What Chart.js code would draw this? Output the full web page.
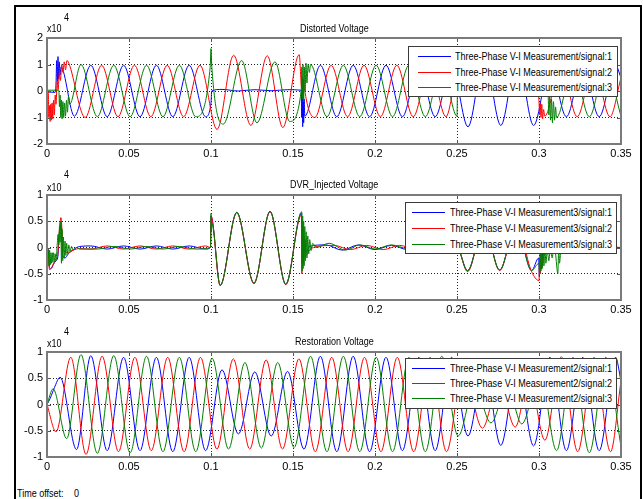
<!DOCTYPE html>
<html>
<head>
<meta charset="utf-8">
<script src="https://cdn.jsdelivr.net/npm/chart.js@4.4.0/dist/chart.umd.min.js"></script>
<style>
  body { margin: 0; width: 643px; height: 499px; overflow: hidden; position: relative; background: #fff;
         font-family: 'Liberation Sans', Arial, sans-serif; font-size: 11px; color: #000; }
  #frame { position: absolute; left: 14px; top: 5px; width: 624px; height: 600px; border: 2px solid #000; }
  canvas { position: absolute; left: 17px; }
  .txt { position: absolute; line-height: 12px; white-space: nowrap; transform: scaleX(0.82); transform-origin: 0 0; }
  .legend { position: absolute; background: #fff; border: 1px solid #3a3a3a; }
  .legend .row { position: absolute; height: 12px; line-height: 12px; white-space: nowrap; }
  .legend .swatch { position: absolute; top: 6px; width: 33px; height: 0; border-top: 1px solid; }
  .legend .lbl { position: absolute; top: 0; transform: scaleX(0.82); transform-origin: 0 0; }
</style>
</head>
<body>
<div id="frame"></div>
<canvas id="c1" width="621" height="154" style="top:12px"></canvas>
<canvas id="c2" width="621" height="152" style="top:170px"></canvas>
<canvas id="c3" width="621" height="153" style="top:326px"></canvas>
<script>
// axes
const xTicks = [0, 0.05, 0.1, 0.15, 0.2, 0.25, 0.3, 0.35];
const distYTicks = [-2, -1, 0, 1, 2];
const dvrYTicks = [-1, -0.5, 0, 0.5, 1];
const restYTicks = [-1, -0.5, 0, 0.5, 1];

const distLabels = ['Three-Phase V-I Measurement/signal:1', 'Three-Phase V-I Measurement/signal:2', 'Three-Phase V-I Measurement/signal:3'];
const dvrLabels = ['Three-Phase V-I Measurement3/signal:1', 'Three-Phase V-I Measurement3/signal:2', 'Three-Phase V-I Measurement3/signal:3'];
const restLabels = ['Three-Phase V-I Measurement2/signal:1', 'Three-Phase V-I Measurement2/signal:2', 'Three-Phase V-I Measurement2/signal:3'];

// Distorted Voltage (x1e4) - peaks, troughs and transient points
const distBlueT = [0, 0.005, 0.0055, 0.0059, 0.0063, 0.0067, 0.0071, 0.0075, 0.008, 0.0085, 0.0167, 0.0267, 0.0367, 0.0467, 0.0567, 0.0667, 0.0767, 0.0867, 0.0967, 0.1, 0.1004, 0.1067, 0.1167, 0.1267, 0.1367, 0.1467, 0.155, 0.1553, 0.1556, 0.1559, 0.1562, 0.1565, 0.1568, 0.1572, 0.1667, 0.1767, 0.1867, 0.1967, 0.2067, 0.2167, 0.2267, 0.2367, 0.2467, 0.2567, 0.2667, 0.2767, 0.2867, 0.2967, 0.3067, 0.3167, 0.3267, 0.3367, 0.3467, 0.35];
const distBlueV = [-0.04, -0.05, 0.3, 1.15, 0.35, 1.3, 0.45, 1.1, 0.6, 0.9, -0.95, 0.97, -0.97, 0.97, -0.97, 0.97, -0.97, 0.97, -0.97, -0.45, 0, 0.06, 0, 0.05, 0.01, 0.05, 0.03, -1.0, 0.35, -1.35, 0.4, -1.2, -0.3, -0.95, 0.97, -0.97, 0.97, -0.97, 0.97, -0.97, 0.97, -0.97, 0.97, -1.35, 1.35, -1.3, 1.35, -1.3, 0.97, -0.97, 0.97, -0.97, 0.97, 0.5];

const distRedT = [0, 0.0008, 0.0011, 0.0015, 0.0019, 0.0023, 0.0027, 0.0031, 0.0035, 0.004, 0.0045, 0.005, 0.0055, 0.0062, 0.0068, 0.0075, 0.0082, 0.009, 0.0097, 0.0105, 0.0113, 0.0122, 0.0133, 0.0233, 0.0333, 0.0433, 0.0533, 0.0633, 0.0733, 0.0833, 0.0933, 0.1037, 0.1138, 0.1243, 0.1343, 0.1438, 0.1538, 0.1553, 0.1557, 0.1561, 0.1565, 0.157, 0.1633, 0.1733, 0.1833, 0.1933, 0.2033, 0.2133, 0.2233, 0.2333, 0.2433, 0.25, 0.2505, 0.26, 0.27, 0.28, 0.29, 0.2995, 0.3, 0.3004, 0.3008, 0.3012, 0.3017, 0.3022, 0.3028, 0.3035, 0.3133, 0.3233, 0.3333, 0.3433, 0.35];
const distRedV = [0, 0, -1.0, -0.55, -1.15, -0.5, -1.1, -0.45, -1.05, -0.35, -0.9, -0.15, -0.5, 0.35, 0.05, 0.7, 0.4, 1.0, 0.7, 1.1, 0.8, 1.15, 1.05, -1.0, 0.97, -0.97, 0.97, -0.97, 0.97, -0.97, 0.97, -1.45, 1.35, -1.3, 1.33, -1.38, 1.37, 0.1, 0.5, -0.1, 0.45, 0.1, -1.0, 0.97, -0.97, 0.97, -0.97, 0.97, -0.97, 0.97, -0.97, 0.45, 0.02, 0.03, -0.03, 0.03, -0.03, 0, -0.4, -0.9, -0.45, -1.0, -0.5, -1.05, -0.7, -0.95, 0.97, -0.97, 0.97, -0.97, 0.5];

const distGreenT = [0, 0.0072, 0.0076, 0.008, 0.0084, 0.0088, 0.0092, 0.0097, 0.0102, 0.0107, 0.0113, 0.0119, 0.0125, 0.0131, 0.0138, 0.0207, 0.0307, 0.0407, 0.0507, 0.0607, 0.0707, 0.0807, 0.0907, 0.0995, 0.1, 0.1005, 0.1075, 0.1187, 0.128, 0.139, 0.148, 0.155, 0.1554, 0.1557, 0.1561, 0.1565, 0.1569, 0.1574, 0.1579, 0.1585, 0.1592, 0.16, 0.1607, 0.1707, 0.1807, 0.1907, 0.2007, 0.2107, 0.2207, 0.2307, 0.2407, 0.25, 0.2503, 0.26, 0.27, 0.28, 0.29, 0.3, 0.3055, 0.306, 0.3065, 0.307, 0.3076, 0.3082, 0.3088, 0.3095, 0.3101, 0.3107, 0.3207, 0.3307, 0.3407, 0.35];
const distGreenV = [0.03, 0.03, -0.6, -0.15, -1.0, -0.35, -1.05, -0.4, -1.0, -0.45, -0.95, -0.35, -0.8, -0.2, -0.5, 1.0, -0.97, 0.97, -0.97, 0.97, -0.97, 0.97, -0.97, 0.9, 1.6, 0.9, -1.25, 1.15, -1.2, 1.1, -1.15, 0, 0.9, -0.3, 1.0, -0.4, 0.9, 0, 1.05, 0.3, 1.0, 0.7, 1.0, -0.97, 0.97, -0.97, 0.97, -0.97, 0.97, -0.97, 0.97, -0.95, -0.05, 0.03, -0.03, 0.03, -0.03, 0, -0.1, -0.9, -0.2, -1.1, -0.3, -1.2, -0.4, -1.1, -0.6, -1.0, 0.97, -0.97, 0.97, -0.95];

// DVR_Injected Voltage (x1e4)
const dvrBlueT = [0, 0.0008, 0.0015, 0.0025, 0.004, 0.0055, 0.0065, 0.0075, 0.0083, 0.009, 0.0095, 0.011, 0.013, 0.016, 0.02, 0.0267, 0.0367, 0.0467, 0.0567, 0.0667, 0.0767, 0.0867, 0.0967, 0.0997, 0.1, 0.1056, 0.1157, 0.1262, 0.136, 0.1456, 0.1553, 0.1556, 0.156, 0.1565, 0.1572, 0.158, 0.16, 0.17, 0.18, 0.19, 0.2, 0.21, 0.22, 0.23, 0.24, 0.25, 0.2564, 0.2664, 0.276, 0.286, 0.2955, 0.2998, 0.3002, 0.3008, 0.3015, 0.3025, 0.31, 0.32, 0.33, 0.34, 0.35];
const dvrBlueV = [0, -0.05, -0.38, -0.4, -0.32, -0.25, -0.2, 0.25, 0.5, 0.2, -0.15, -0.2, -0.12, -0.04, 0.02, 0.03, -0.03, 0.03, -0.03, 0.03, -0.03, 0.03, -0.03, 0, 0.6, -0.72, 0.67, -0.68, 0.69, -0.7, 0.66, -0.3, 0.3, -0.2, 0.15, -0.1, 0.02, 0.05, -0.05, 0.05, -0.04, 0.04, -0.04, 0.04, -0.04, 0, -0.44, 0.44, -0.43, 0.44, -0.44, -0.2, -0.55, -0.1, -0.4, -0.05, 0.02, -0.02, 0.02, -0.02, 0];

const dvrRedT = [0, 0.0008, 0.0015, 0.0025, 0.004, 0.0055, 0.0065, 0.0075, 0.0085, 0.0092, 0.0097, 0.011, 0.013, 0.016, 0.02, 0.0267, 0.0367, 0.0467, 0.0567, 0.0667, 0.0767, 0.0867, 0.0967, 0.0997, 0.1, 0.1056, 0.1157, 0.1262, 0.136, 0.1456, 0.1551, 0.1554, 0.1558, 0.1563, 0.157, 0.158, 0.16, 0.165, 0.175, 0.185, 0.195, 0.205, 0.215, 0.225, 0.235, 0.245, 0.25, 0.2564, 0.2664, 0.276, 0.286, 0.2955, 0.3, 0.3004, 0.3008, 0.3013, 0.302, 0.303, 0.315, 0.325, 0.335, 0.35];
const dvrRedV = [0, -0.1, -0.42, -0.4, -0.3, -0.22, -0.15, 0.3, 0.57, 0.3, -0.05, -0.08, -0.1, -0.05, -0.02, -0.03, 0.03, -0.03, 0.03, -0.03, 0.03, -0.03, 0.03, 0, 0.6, -0.73, 0.66, -0.69, 0.68, -0.71, 0.62, -0.5, 0.2, -0.3, 0.1, -0.15, -0.05, 0.02, 0.04, -0.04, 0.04, -0.04, 0.04, -0.03, 0.03, -0.03, 0, -0.46, 0.44, -0.44, 0.44, -0.46, -0.63, -0.2, -0.5, -0.1, -0.35, -0.05, 0.02, -0.02, 0.02, 0];

const dvrGreenT = [0, 0.0008, 0.0012, 0.0016, 0.002, 0.0024, 0.0028, 0.0032, 0.0036, 0.004, 0.0045, 0.005, 0.0055, 0.006, 0.0068, 0.0072, 0.0076, 0.008, 0.0084, 0.0088, 0.0092, 0.0096, 0.01, 0.0105, 0.011, 0.0115, 0.012, 0.0126, 0.0133, 0.014, 0.015, 0.016, 0.018, 0.02, 0.0307, 0.0407, 0.0507, 0.0607, 0.0707, 0.0807, 0.0907, 0.0997, 0.1, 0.1003, 0.1006, 0.1056, 0.1157, 0.1262, 0.136, 0.1456, 0.1553, 0.1556, 0.1559, 0.1562, 0.1565, 0.1568, 0.1572, 0.1576, 0.158, 0.1585, 0.159, 0.1596, 0.1602, 0.161, 0.162, 0.164, 0.172, 0.182, 0.191, 0.2, 0.21, 0.22, 0.25, 0.2564, 0.2664, 0.276, 0.286, 0.2955, 0.3, 0.3004, 0.3008, 0.3012, 0.3016, 0.302, 0.3025, 0.303, 0.3036, 0.3042, 0.305, 0.306, 0.307, 0.308, 0.309, 0.31, 0.3115, 0.312, 0.3125, 0.3135, 0.32, 0.35];
const dvrGreenV = [0, -0.05, -0.35, -0.05, -0.33, -0.1, -0.3, -0.1, -0.28, -0.1, -0.27, -0.12, -0.25, -0.05, 0.25, 0.05, 0.4, 0.1, 0.5, -0.3, 0.35, -0.25, 0.2, -0.2, 0.12, -0.15, 0.08, -0.12, 0.05, -0.08, 0.02, -0.05, 0, -0.03, -0.03, 0.02, -0.03, 0.02, -0.03, 0.02, -0.03, 0, 0.65, 0.3, 0.45, -0.72, 0.67, -0.68, 0.69, -0.7, 0.68, -0.45, 0.6, -0.4, 0.5, -0.35, 0.4, -0.25, 0.3, -0.2, 0.22, -0.12, 0.15, -0.06, 0.08, 0, 0.08, -0.05, 0.05, -0.03, 0.05, -0.02, 0, -0.45, 0.45, -0.43, 0.45, -0.44, -0.3, -0.5, -0.05, -0.45, 0, -0.4, -0.05, -0.35, 0, -0.3, -0.05, -0.25, 0, -0.2, 0, -0.1, -0.5, 0, -0.3, 0, 0.02, 0];

// Restoration Voltage (x1e4)
const restBlueT = [0, 0.002, 0.0045, 0.008, 0.018, 0.0267, 0.0367, 0.0467, 0.0567, 0.0667, 0.0767, 0.0867, 0.0967, 0.1067, 0.1167, 0.1267, 0.1367, 0.1467, 0.1567, 0.1667, 0.1767, 0.1867, 0.1967, 0.2067, 0.2167, 0.2267, 0.2367, 0.2467, 0.2567, 0.2667, 0.2767, 0.2867, 0.2967, 0.3067, 0.3167, 0.3267, 0.3367, 0.3467, 0.35];
const restBlueV = [0, 0.12, 0.32, 0.52, -0.86, 0.93, -0.88, 0.9, -0.88, 0.9, -0.9, 0.9, -0.88, 0.66, -0.56, 0.62, -0.6, 0.63, -0.85, 0.92, -0.9, 0.92, -0.9, 0.9, -0.88, 0.9, -0.88, 0.9, -0.6, 0.75, -0.78, 0.75, -0.79, 0.9, -0.88, 0.9, -0.88, 0.9, 0.45];

const restRedT = [0, 0.0055, 0.0145, 0.0238, 0.0336, 0.0436, 0.0536, 0.0636, 0.0736, 0.0836, 0.0936, 0.1036, 0.1136, 0.1236, 0.1336, 0.1436, 0.1536, 0.1636, 0.1736, 0.1836, 0.1936, 0.2036, 0.2136, 0.2236, 0.2336, 0.2436, 0.2536, 0.2655, 0.2755, 0.2855, 0.294, 0.3036, 0.3136, 0.3236, 0.3336, 0.3436, 0.35];
const restRedV = [0, -0.52, 0.9, -0.95, 0.92, -0.9, 0.9, -0.88, 0.9, -0.9, 0.9, -0.85, 0.87, -0.85, 0.85, -0.85, 0.87, -0.9, 0.9, -0.9, 0.9, -0.9, 0.9, -0.9, 0.9, -0.9, 0.7, -0.45, 0.42, -0.43, 0.5, -0.68, 0.91, -0.9, 0.9, -0.9, 0.45];

const restGreenT = [0, 0.0037, 0.012, 0.0207, 0.0307, 0.0407, 0.0507, 0.0607, 0.0707, 0.0807, 0.0907, 0.1007, 0.1107, 0.1207, 0.1307, 0.1407, 0.1507, 0.1607, 0.1707, 0.1807, 0.1907, 0.2007, 0.2107, 0.2207, 0.2307, 0.2407, 0.2507, 0.2607, 0.2707, 0.2807, 0.2895, 0.3007, 0.3107, 0.3207, 0.3307, 0.3407, 0.35];
const restGreenV = [0, 0.3, -0.65, 0.95, -0.93, 0.93, -0.92, 0.92, -0.9, 0.9, -0.9, 0.88, -0.85, 0.8, -0.83, 0.8, -0.82, 0.92, -0.9, 0.92, -0.9, 0.9, -0.9, 0.9, -0.9, 0.92, -0.6, 0.35, -0.35, 0.35, -0.37, 0.6, -0.88, 0.9, -0.92, 0.9, -0.8];

const colors = ['#0000ff', '#ff0000', '#008000'];
const tickFont = { family: "'Liberation Sans', Arial, sans-serif", size: 11 };

// gray axes box with inward tick marks, MATLAB style
const axesBox = {
    id: 'axesBox',
    afterDraw(chart) {
        const { ctx, chartArea: a, scales } = chart;
        ctx.save();
        ctx.strokeStyle = '#555';
        ctx.lineWidth = 1;
        ctx.beginPath();
        scales.x.ticks.forEach(t => {
            const px = Math.round(scales.x.getPixelForValue(t.value)) + 0.5;
            ctx.moveTo(px, a.top); ctx.lineTo(px, a.top + 4);
            ctx.moveTo(px, a.bottom); ctx.lineTo(px, a.bottom - 4);
        });
        scales.y.ticks.forEach(t => {
            const py = Math.round(scales.y.getPixelForValue(t.value)) + 0.5;
            ctx.moveTo(a.left, py); ctx.lineTo(a.left + 4, py);
            ctx.moveTo(a.right, py); ctx.lineTo(a.right - 4, py);
        });
        ctx.stroke();
        ctx.strokeStyle = '#7a7a7a';
        ctx.lineWidth = 2;
        ctx.strokeRect(a.left, a.top, a.right - a.left, a.bottom - a.top);
        ctx.restore();
    }
};

function series(t, v, i, label) {
    return {
        label: label,
        data: t.map((x, k) => ({ x: x, y: v[k] })),
        borderColor: colors[i],
        borderWidth: 1,
        pointRadius: 0,
        cubicInterpolationMode: 'monotone',
        order: 3 - i   // green on top, blue underneath
    };
}

function makePlot(id, padTop, yTicks, datasets) {
    return new Chart(document.getElementById(id), {
        type: 'line',
        data: { datasets: datasets },
        options: {
            responsive: false,
            animation: false,
            devicePixelRatio: 1,
            layout: { padding: { top: padTop, right: 17, bottom: 0, left: 0 } },
            plugins: { legend: { display: false }, tooltip: { enabled: false } },
            scales: {
                x: {
                    type: 'linear', min: 0, max: 0.35,
                    afterBuildTicks: s => { s.ticks = xTicks.map(v => ({ value: v })); },
                    afterFit: s => { s.height = 22; },
                    ticks: { font: tickFont, color: '#000', padding: 3, maxRotation: 0, autoSkip: false, callback: v => String(v) },
                    grid: { color: '#222', drawTicks: false },
                    border: { display: false, dash: [1, 2] }
                },
                y: {
                    type: 'linear', min: yTicks[0], max: yTicks[yTicks.length - 1],
                    afterBuildTicks: s => { s.ticks = yTicks.map(v => ({ value: v })); },
                    afterFit: s => { s.width = 30; },
                    ticks: { font: tickFont, color: '#000', padding: 4, autoSkip: false, callback: v => String(v) },
                    grid: { color: '#222', drawTicks: false },
                    border: { display: false, dash: [1, 2] }
                }
            }
        },
        plugins: [axesBox]
    });
}

makePlot('c1', 26, distYTicks, [
    series(distBlueT, distBlueV, 0, distLabels[0]),
    series(distRedT, distRedV, 1, distLabels[1]),
    series(distGreenT, distGreenV, 2, distLabels[2])
]);
makePlot('c2', 25, dvrYTicks, [
    series(dvrBlueT, dvrBlueV, 0, dvrLabels[0]),
    series(dvrRedT, dvrRedV, 1, dvrLabels[1]),
    series(dvrGreenT, dvrGreenV, 2, dvrLabels[2])
]);
makePlot('c3', 26, restYTicks, [
    series(restBlueT, restBlueV, 0, restLabels[0]),
    series(restRedT, restRedV, 1, restLabels[1]),
    series(restGreenT, restGreenV, 2, restLabels[2])
]);

// text: titles, exponent markers, time offset (condensed like the scope font)
function addText(str, x, y, align) {
    const el = document.createElement('div');
    el.className = 'txt';
    el.textContent = str;
    document.body.appendChild(el);
    const w = el.offsetWidth * 0.82;
    el.style.left = (align === 'center' ? x - w / 2 : x) + 'px';
    el.style.top = (y - 6) + 'px';
}
addText('Distorted Voltage', 334, 28, 'center');
addText('DVR_Injected Voltage', 334, 184, 'center');
addText('Restoration Voltage', 334, 341, 'center');
[[38, 28], [195, 187], [352, 343]].forEach(p => {
    addText('x10', 47, p[1], 'left');
    addText('4', 64, p[0] - 21, 'left');
});
addText('Time offset:', 17, 493, 'left');
addText('0', 74, 493, 'left');

// legends
function addLegend(labels, box, lineX, textX, rowY) {
    const lg = document.createElement('div');
    lg.className = 'legend';
    lg.style.left = box[0] + 'px';
    lg.style.top = box[1] + 'px';
    lg.style.width = box[2] + 'px';
    lg.style.height = box[3] + 'px';
    labels.forEach((lab, i) => {
        const row = document.createElement('div');
        row.className = 'row';
        row.style.top = (rowY[i] - 6) + 'px';
        row.style.left = '0px';
        row.innerHTML = '<span class="swatch" style="left:' + lineX + 'px;border-color:' + colors[i] + '"></span>' +
            '<span class="lbl" style="left:' + textX + 'px">' + lab + '</span>';
        lg.appendChild(row);
    });
    document.body.appendChild(lg);
}
addLegend(distLabels, [408, 46, 208, 49], 9, 46, [9, 24.5, 40]);
addLegend(dvrLabels, [405, 202, 210, 50], 6, 44, [9, 25, 41]);
addLegend(restLabels, [405, 358, 210, 49], 6, 44, [9, 24, 39]);
</script>
</body>
</html>
